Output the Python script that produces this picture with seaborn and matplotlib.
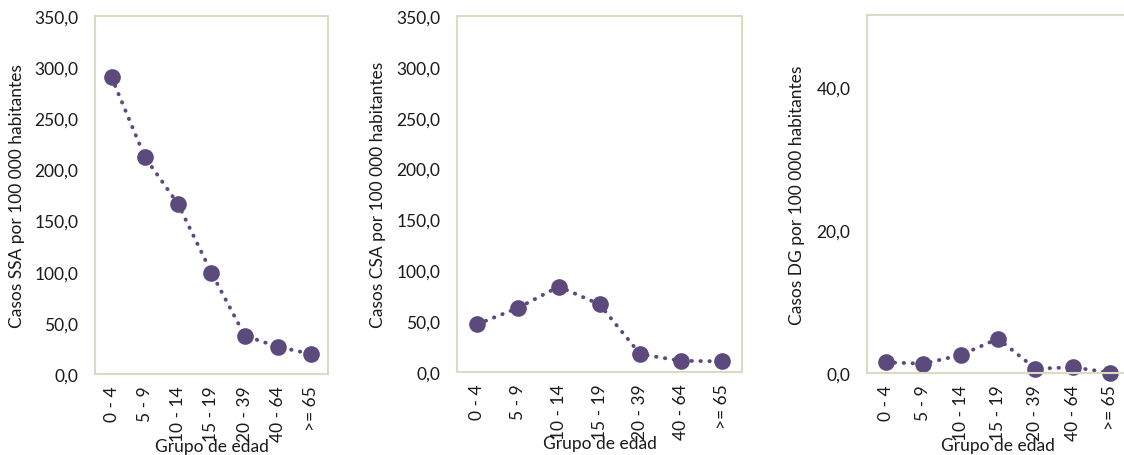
import matplotlib
matplotlib.use("Agg")
import matplotlib.pyplot as plt
from matplotlib.ticker import FuncFormatter, FixedLocator
import seaborn as sns
import pandas as pd

# Age groups and incidence rates per 100 000 inhabitants
grupos = ["0 - 4", "5 - 9", "10 - 14", "15 - 19", "20 - 39", "40 - 64", ">= 65"]
tasa_ssa = [290.0, 212.0, 166.0, 99.0, 37.5, 26.5, 19.5]
tasa_csa = [47.0, 63.0, 84.0, 66.5, 17.5, 11.0, 10.5]
tasa_dg = [1.5, 1.3, 2.5, 4.8, 0.6, 0.8, 0.05]

paneles = [
    ("Casos SSA por 100 000 habitantes", tasa_ssa, 350, [0, 50, 100, 150, 200, 250, 300, 350]),
    ("Casos CSA por 100 000 habitantes", tasa_csa, 350, [0, 50, 100, 150, 200, 250, 300, 350]),
    ("Casos DG por 100 000 habitantes", tasa_dg, 50, [0, 20, 40]),
]

sns.set_theme(style="white")
plt.rcParams["font.family"] = ["Lato", "DejaVu Sans"]

color = "#5d4a7c"
marco = "#dcd9c4"
texto = "#1a1a1a"
fs = 12.5

fig = plt.figure(figsize=(11.24, 4.56), dpi=100)
posiciones = [
    [0.0845, 0.1776, 0.2073, 0.785],
    [0.4066, 0.1820, 0.2536, 0.781],
    [0.7714, 0.1798, 0.2331, 0.785],
]
ylabel_x = [-0.30, -0.249, -0.237]

fmt = FuncFormatter(lambda v, p: f"{v:.1f}".replace(".", ","))

for (etiqueta, valores, ymax, ticks), pos, lx in zip(paneles, posiciones, ylabel_x):
    ax = fig.add_axes(pos)
    df = pd.DataFrame({"grupo": grupos, "tasa": valores})
    df["x"] = range(len(grupos))
    sns.lineplot(data=df, x="x", y="tasa", ax=ax, color=color, linewidth=2.8,
                 linestyle=(0, (0.1, 2.2)), dash_capstyle="round",
                 marker="o", markersize=12, markeredgewidth=0,
                 markerfacecolor=color, clip_on=False)
    ax.set_xlim(-0.5, len(grupos) - 0.5)
    ax.set_ylim(0, ymax)
    ax.xaxis.set_major_locator(FixedLocator(range(len(grupos))))
    ax.set_xticklabels(grupos, rotation=90, fontsize=fs, color=texto)
    ax.yaxis.set_major_locator(FixedLocator(ticks))
    ax.yaxis.set_major_formatter(fmt)
    ax.tick_params(axis="y", length=0, pad=12, labelsize=fs, labelcolor=texto)
    ax.tick_params(axis="x", length=0, pad=8)
    for s in ax.spines.values():
        s.set_color(marco)
        s.set_linewidth(1.5)
    ax.set_ylabel(etiqueta, fontsize=fs, color=texto)
    ax.set_xlabel("Grupo de edad", fontsize=fs, color=texto, va="center")
    ax.yaxis.set_label_coords(lx, 0.5)
    ax.xaxis.set_label_coords(0.5, -0.20)
    ax.grid(False)

fig.savefig("out.png", dpi=100)
